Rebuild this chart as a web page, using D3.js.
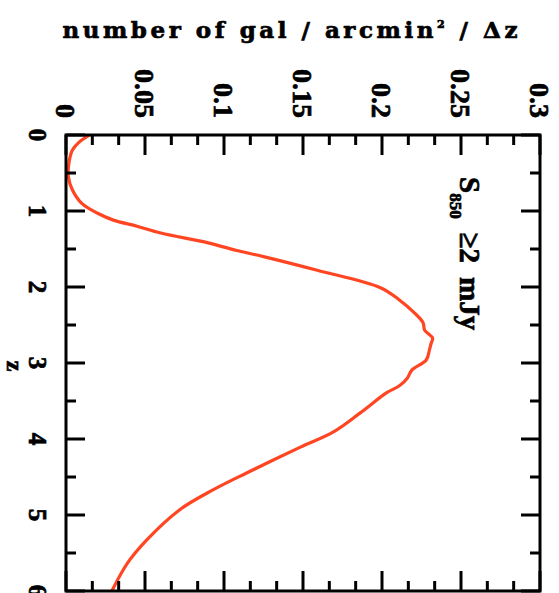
<!DOCTYPE html>
<html lang="en">
<head>
<meta charset="UTF-8">
<title>N(z)</title>
<style>
  body { margin: 0; background: #fff; }
  svg { display: block; }
  text { font-family: "Liberation Serif", serif; font-weight: bold; fill: #000; stroke: #000; stroke-width: 0.7; }
</style>
</head>
<body>
<div id="graph"></div>
<script src="https://cdn.jsdelivr.net/npm/d3@7"></script>
<script>
const WIDTH = 559;
const HEIGHT = 593;
const LEFT = 66, RIGHT = 540, TOP = 135, BOTTOM = 591;
const RED = "#ff4522";

// redshift and surface density along the curve
const Z_VALUES = [0.0, 0.1, 0.2, 0.35, 0.55, 0.72, 0.9, 1.03, 1.12, 1.2, 1.29, 1.42, 1.52, 1.6, 1.78,
  2.01, 2.17, 2.33, 2.47, 2.57, 2.67, 2.75, 2.83, 2.96, 3.09, 3.2, 3.3, 3.39, 3.66, 3.91,
  4.11, 4.45, 4.67, 4.93, 5.33, 5.63, 6.0];
const N_VALUES = [0.015, 0.008, 0.004, 0.002, 0.0015, 0.004, 0.010, 0.020, 0.030, 0.045, 0.060, 0.090, 0.108, 0.125, 0.159,
  0.199, 0.211, 0.220, 0.226, 0.227, 0.232, 0.231, 0.230, 0.228, 0.219, 0.216, 0.211, 0.203, 0.186, 0.169,
  0.148, 0.114, 0.093, 0.072, 0.051, 0.039, 0.029];

const N_TICKS = [0, 0.05, 0.1, 0.15, 0.2, 0.25, 0.3];
const N_TICK_LABELS = ["0", "0.05", "0.1", "0.15", "0.2", "0.25", "0.3"];
const N_MINOR = d3.range(1, 18).filter(i => i % 3 !== 0).map(i => i * 0.05 / 3);
const Z_TICKS = [0, 1, 2, 3, 4, 5, 6];
const Z_MINOR = [0.5, 1.5, 2.5, 3.5, 4.5, 5.5];

const nScale = d3.scaleLinear().domain([0, 0.3]).range([LEFT, RIGHT]);
const zScale = d3.scaleLinear().domain([0, 6]).range([TOP, BOTTOM]);

const svg = d3.select("#graph")
  .append("svg")
  .attr("width", WIDTH)
  .attr("height", HEIGHT);

svg.append("clipPath").attr("id", "frame")
  .append("rect")
  .attr("x", LEFT).attr("y", TOP)
  .attr("width", RIGHT - LEFT).attr("height", BOTTOM - TOP);

// curve
const points = Z_VALUES.map((z, i) => ({ z: z, n: N_VALUES[i] }));
svg.append("path")
  .datum(points)
  .attr("clip-path", "url(#frame)")
  .attr("fill", "none")
  .attr("stroke", RED)
  .attr("stroke-width", 3.2)
  .attr("stroke-linejoin", "round")
  .attr("d", d3.line().x(d => nScale(d.n)).y(d => zScale(d.z)).curve(d3.curveCatmullRom));

// ticks on all four sides, pointing inward
const ticks = svg.append("g").attr("stroke", "#000").attr("stroke-width", 3);
function nTick(v, len) {
  ticks.append("line").attr("x1", nScale(v)).attr("x2", nScale(v)).attr("y1", TOP).attr("y2", TOP + len);
  ticks.append("line").attr("x1", nScale(v)).attr("x2", nScale(v)).attr("y1", BOTTOM).attr("y2", BOTTOM - len);
}
function zTick(v, len) {
  ticks.append("line").attr("y1", zScale(v)).attr("y2", zScale(v)).attr("x1", LEFT).attr("x2", LEFT + len);
  ticks.append("line").attr("y1", zScale(v)).attr("y2", zScale(v)).attr("x1", RIGHT).attr("x2", RIGHT - len);
}
N_TICKS.forEach(v => nTick(v, 20));
N_MINOR.forEach(v => nTick(v, 10));
Z_TICKS.forEach(v => zTick(v, 19));
Z_MINOR.forEach(v => zTick(v, 10));

svg.append("rect")
  .attr("x", LEFT).attr("y", TOP)
  .attr("width", RIGHT - LEFT).attr("height", BOTTOM - TOP)
  .attr("fill", "none")
  .attr("stroke", "#000")
  .attr("stroke-width", 3);

// rotated tick labels
svg.append("g").selectAll("text")
  .data(N_TICKS)
  .enter()
  .append("text")
  .attr("x", d => nScale(d))
  .attr("y", 118)
  .attr("dy", "0.34em")
  .attr("text-anchor", "end")
  .attr("font-size", 28)
  .attr("transform", d => `rotate(90, ${nScale(d)}, 118)`)
  .text((d, i) => N_TICK_LABELS[i]);

svg.append("g").selectAll("text")
  .data(Z_TICKS)
  .enter()
  .append("text")
  .attr("x", 37)
  .attr("y", d => zScale(d))
  .attr("dy", "0.34em")
  .attr("text-anchor", "middle")
  .attr("font-size", 25)
  .attr("transform", d => `rotate(90, 37, ${zScale(d)})`)
  .text(d => d);

// axis titles
const title = svg.append("text")
  .attr("x", 290)
  .attr("y", 38)
  .attr("text-anchor", "middle")
  .style("font-family", "'DejaVu Serif', serif")
  .attr("font-size", 23)
  .attr("textLength", 455)
  .attr("lengthAdjust", "spacing");
title.append("tspan").text("number of gal / arcmin");
title.append("tspan").attr("font-size", 11).attr("dy", -10).text("2");
title.append("tspan").attr("dy", 10).text(" / Δz");

svg.append("text")
  .attr("x", 366)
  .attr("y", -7)
  .attr("text-anchor", "middle")
  .attr("font-size", 24)
  .attr("transform", "rotate(90)")
  .text("z");

// annotation
const note = svg.append("text")
  .attr("x", 177)
  .attr("y", -460)
  .attr("font-size", 29)
  .attr("transform", "rotate(90)");
note.append("tspan").text("S");
note.append("tspan").attr("font-size", 17).attr("dy", 10).text("850");
note.append("tspan").attr("dy", -10).attr("dx", 14).text("≥2");
note.append("tspan").attr("dx", 14).text("mJy");
</script>
</body>
</html>
